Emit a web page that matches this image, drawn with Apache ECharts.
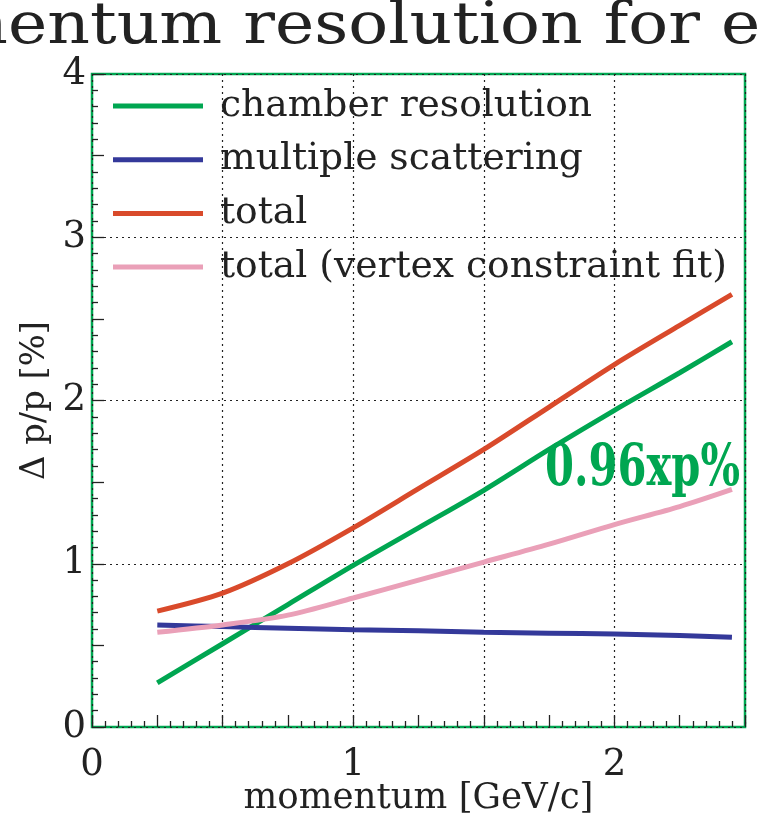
<!DOCTYPE html>
<html><head><meta charset="utf-8">
<script src="https://cdn.jsdelivr.net/npm/echarts@6/dist/echarts.min.js"></script>
<style>html,body{margin:0;padding:0;background:#fff}#c{width:758px;height:813px}</style>
</head><body><div id="c"></div>
<script>
// ---- data ----
const titleText = 'Momentum resolution for electrons';
const momentum = [0.25, 0.5, 0.75, 1.0, 1.25, 1.5, 1.75, 2.0, 2.25, 2.45];
const chamberRes = [0.27, 0.51, 0.75, 0.99, 1.22, 1.45, 1.70, 1.94, 2.17, 2.36];
const multScatt = [0.625, 0.615, 0.605, 0.595, 0.59, 0.58, 0.575, 0.57, 0.56, 0.55];
const totalRes = [0.71, 0.82, 1.00, 1.22, 1.46, 1.70, 1.96, 2.22, 2.46, 2.65];
const totalVtx = [0.58, 0.625, 0.685, 0.79, 0.90, 1.01, 1.12, 1.24, 1.35, 1.455];
const seriesNames = ['chamber resolution', 'multiple scattering', 'total', 'total (vertex constraint fit)'];
const annotation = '0.96xp%';
const xTickLabels = ['0', '1', '2'];
const yTickLabels = ['0', '1', '2', '3', '4'];

// ---- layout helpers ----
const FONT = '"DejaVu Serif", serif';
const cv = document.createElement('canvas').getContext('2d');
function measure(text, size, weight) {
  cv.font = (weight || 'normal') + ' ' + size + 'px ' + FONT;
  return cv.measureText(text).width;
}
function fit(text, width, weight) { return 100 * width / measure(text, 100, weight); }

const titleSize = 58;
const titleScale = 692 / measure('entum resolution for', titleSize);
const titleX = 8 - measure('Mom', titleSize) * titleScale;
const legendSize = fit(seriesNames[3], 507);
const xNameSize = fit('momentum [GeV/c]', 350);
const yNameSize = fit('Δ p/p [%]', 159);
const annSize = 58;
const annScale = 195 / measure(annotation, annSize, 'bold');
const tickSize = 37;

const colors = ['#00a651', '#34399a', '#d94a2b', '#eaa0b8'];
const dataSets = [chamberRes, multScatt, totalRes, totalVtx];

const chart = echarts.init(document.getElementById('c'), null, {renderer: 'canvas'});
const gridLeft = 92, gridRight = 13, gridTop = 74, gridBottom = 86;
const dotted = {show: true, lineStyle: {color: '#222', type: [2, 4], width: 1.2}};

chart.setOption({
  animation: false,
  backgroundColor: '#fff',
  grid: {left: gridLeft, right: gridRight, top: gridTop, bottom: gridBottom, show: true,
         containLabel: false, outerBoundsMode: 'none',
         borderColor: '#00a651', borderWidth: 2.5, backgroundColor: 'transparent'},
  xAxis: [{
    type: 'value', min: 0, max: 2.5, interval: 0.5, position: 'bottom',
    axisLine: {show: false}, axisTick: {show: false},
    splitLine: dotted,
    axisLabel: {show: true, margin: 20, color: '#222', fontFamily: FONT, fontSize: tickSize,
      formatter: v => { const i = xTickLabels.indexOf(String(v)); return i >= 0 ? xTickLabels[i] : ''; }},
    name: 'momentum [GeV/c]', nameLocation: 'middle', nameGap: 54, nameMoveOverlap: false,
    nameTextStyle: {fontFamily: FONT, fontSize: xNameSize, color: '#222'}
  }, {
    type: 'value', min: 0, max: 2.5, interval: 0.25, position: 'bottom',
    axisLine: {show: false}, splitLine: {show: false}, axisLabel: {show: false},
    axisTick: {show: true, inside: true, length: 12, lineStyle: {color: '#222', width: 1.3}},
    minorTick: {show: true, splitNumber: 5, length: 6, lineStyle: {color: '#222', width: 1.3}}
  }],
  yAxis: [{
    type: 'value', min: 0, max: 4, interval: 1, position: 'left',
    axisLine: {show: false}, axisTick: {show: false},
    splitLine: dotted,
    axisLabel: {show: true, margin: 6, color: '#222', fontFamily: FONT, fontSize: tickSize,
      formatter: v => { const i = yTickLabels.indexOf(String(v)); return i >= 0 ? yTickLabels[i] : ''; }},
    name: 'Δ p/p [%]', nameLocation: 'middle', nameGap: 40, nameRotate: 90, nameMoveOverlap: false,
    nameTextStyle: {fontFamily: FONT, fontSize: yNameSize, color: '#222'}
  }, {
    type: 'value', min: 0, max: 4, interval: 0.5, position: 'left',
    axisLine: {show: false}, splitLine: {show: false}, axisLabel: {show: false},
    axisTick: {show: true, inside: true, length: 12, lineStyle: {color: '#222', width: 1.3}},
    minorTick: {show: true, splitNumber: 5, length: 6, lineStyle: {color: '#222', width: 1.3}}
  }],
  legend: {
    orient: 'vertical', left: 113, top: 84, padding: 0, itemWidth: 90, itemHeight: 5, itemGap: 9.7,
    icon: 'rect', data: seriesNames,
    textStyle: {fontFamily: FONT, fontSize: legendSize, color: '#222', lineHeight: 44, padding: [0, 0, 0, 12]}
  },
  series: seriesNames.map((n, k) => ({
    name: n, type: 'line', xAxisIndex: 0, yAxisIndex: 0, color: colors[k],
    symbol: 'none', smooth: 0.3, z: 3,
    lineStyle: {width: 5, color: colors[k]},
    data: momentum.map((x, i) => [x, dataSets[k][i]])
  })),
  graphic: [{
    type: 'text', x: titleX, y: -1, scaleX: titleScale, silent: true,
    style: {text: titleText, font: 'normal ' + titleSize + 'px ' + FONT, fill: '#222', verticalAlign: 'top'}
  }, {
    type: 'text', x: 740, y: 441, scaleX: annScale, silent: true, z: 10,
    style: {text: annotation, font: 'bold ' + annSize + 'px ' + FONT, fill: '#00a651', align: 'right', verticalAlign: 'top'}
  }]
});
</script></body></html>
